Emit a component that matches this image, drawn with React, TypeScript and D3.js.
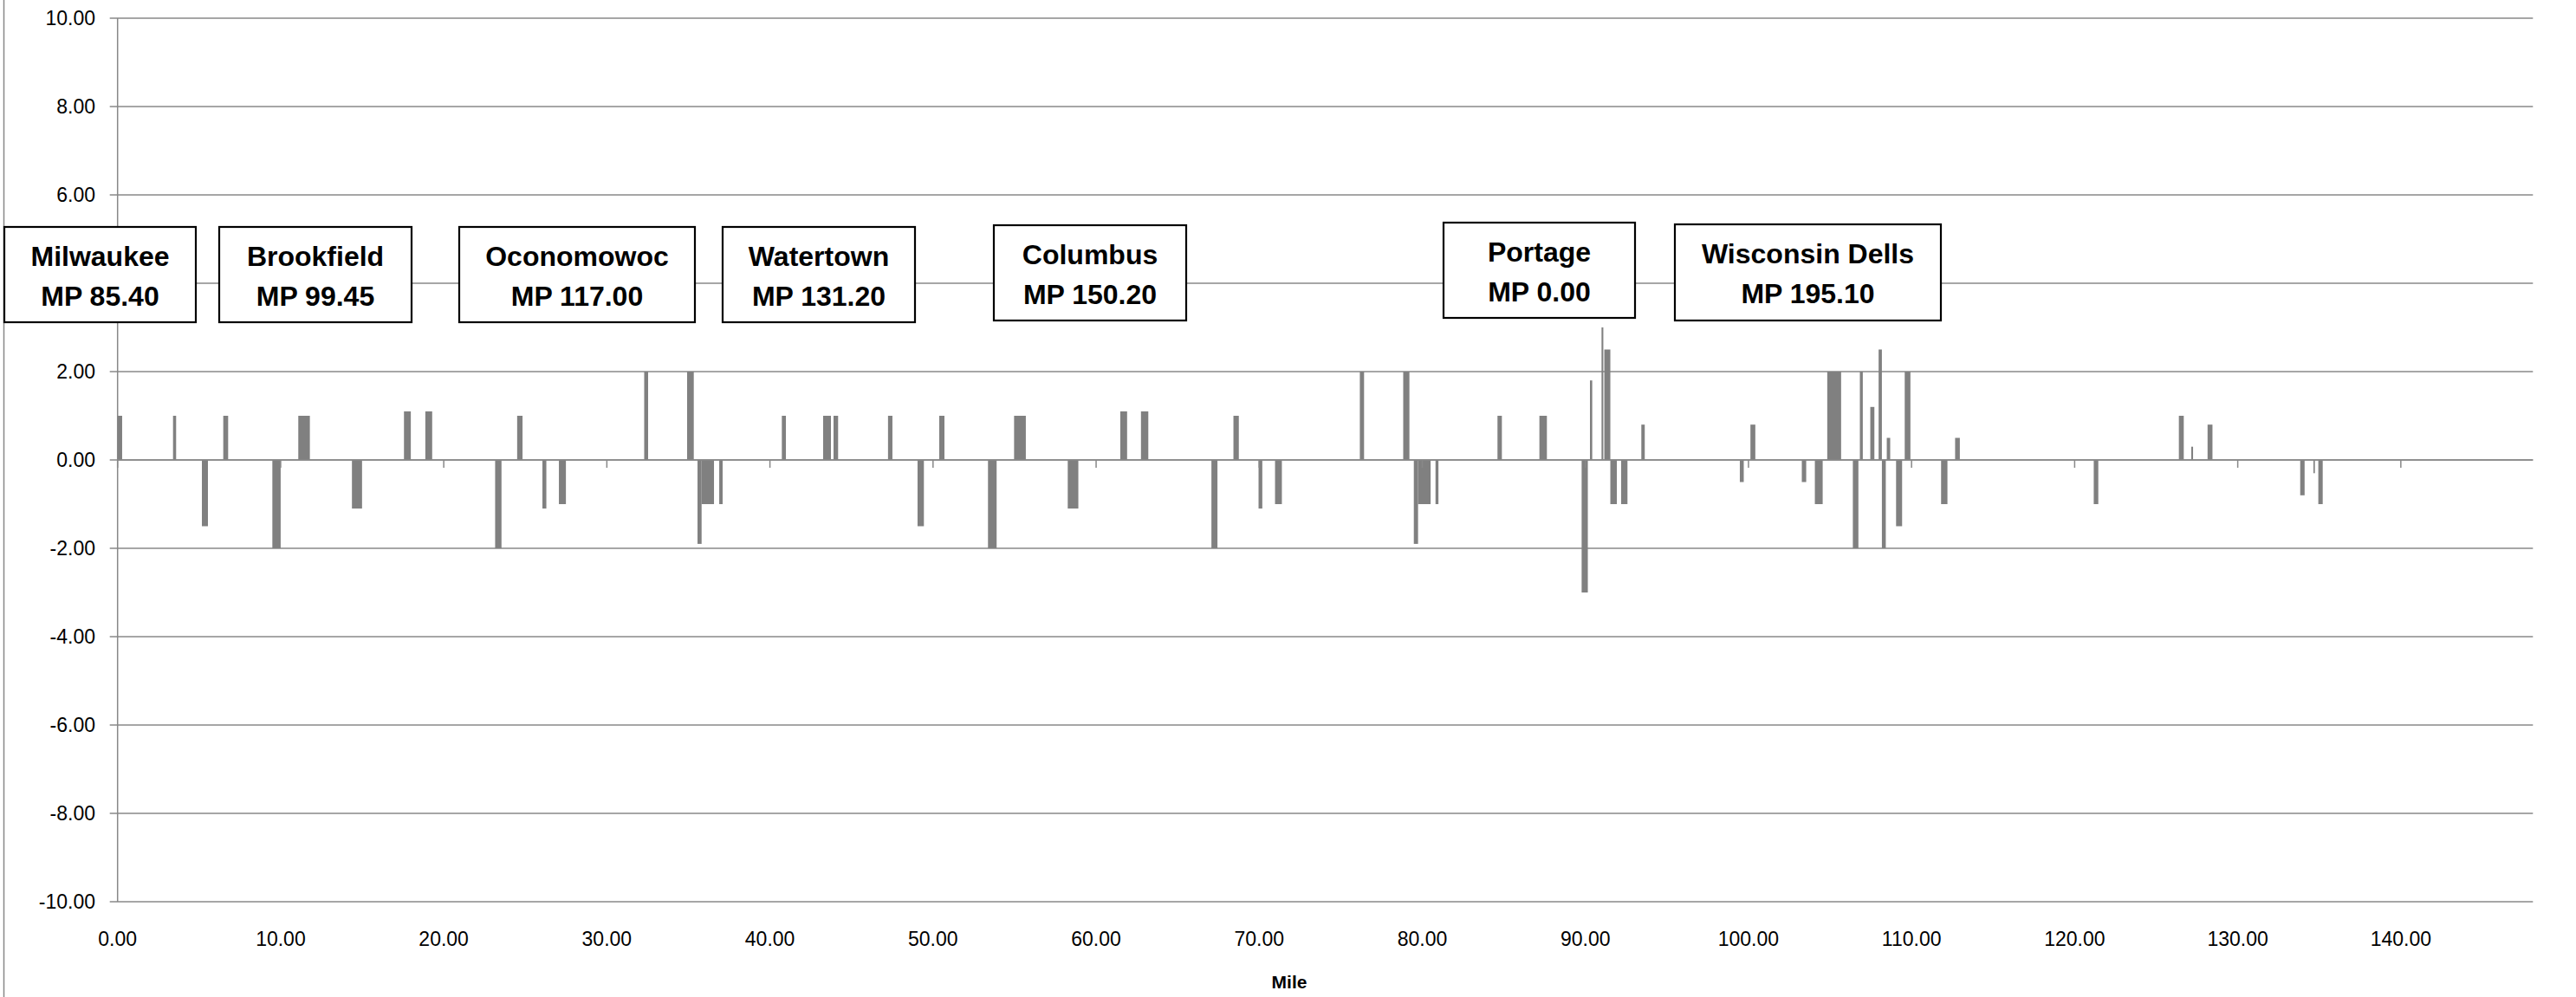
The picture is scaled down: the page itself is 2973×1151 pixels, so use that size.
import React from "react";
import * as d3 from "d3";

// ---- data (miles along the route, deviation values) ----
const segStart = [0.0, 3.4, 5.17, 6.48, 9.49, 11.08, 14.37, 17.56, 18.87, 23.15, 24.5, 26.05, 27.06, 32.29, 34.92, 35.56, 35.81, 36.89, 40.73, 43.26, 43.9, 47.24, 49.05, 50.38, 53.37, 54.97, 58.26, 61.48, 62.75, 67.07, 68.42, 69.96, 70.97, 76.17, 78.83, 79.48, 79.74, 80.81, 84.61, 87.18, 89.77, 90.28, 90.99, 91.16, 91.53, 92.19, 93.43, 99.47, 100.12, 103.27, 104.07, 104.83, 106.4, 106.83, 107.47, 107.98, 108.18, 108.48, 109.05, 109.58, 111.81, 112.67, 121.17, 126.39, 127.15, 128.15, 133.83, 134.64, 134.94];
const segEnd = [0.28, 3.59, 5.54, 6.78, 10.0, 11.79, 14.99, 17.98, 19.29, 23.54, 24.83, 26.29, 27.49, 32.53, 35.33, 35.81, 36.57, 37.1, 40.98, 43.74, 44.18, 47.51, 49.44, 50.7, 53.9, 55.69, 58.91, 61.9, 63.2, 67.44, 68.75, 70.19, 71.39, 76.43, 79.21, 79.74, 80.51, 80.99, 84.88, 87.64, 90.15, 90.42, 91.1, 91.53, 91.93, 92.58, 93.64, 99.71, 100.42, 103.54, 104.55, 105.68, 106.74, 107.01, 107.72, 108.18, 108.42, 108.69, 109.42, 109.93, 112.2, 112.96, 121.45, 126.69, 127.26, 128.45, 134.1, 134.73, 135.21];
const segValue = [1.0, 1.0, -1.5, 1.0, -2.0, 1.0, -1.1, 1.1, 1.1, -2.0, 1.0, -1.1, -1.0, 2.0, 2.0, -1.9, -1.0, -1.0, 1.0, 1.0, 1.0, 1.0, -1.5, 1.0, -2.0, 1.0, -1.1, 1.1, 1.1, -2.0, 1.0, -1.1, -1.0, 2.0, 2.0, -1.9, -1.0, -1.0, 1.0, 1.0, -3.0, 1.8, 3.0, 2.5, -1.0, -1.0, 0.8, -0.5, 0.8, -0.5, -1.0, 2.0, -2.0, 2.0, 1.2, 2.5, -2.0, 0.5, -1.5, 2.0, -1.0, 0.5, -1.0, 1.0, 0.3, 0.8, -0.8, -0.3, -1.0];

const xTicks = [0, 10, 20, 30, 40, 50, 60, 70, 80, 90, 100, 110, 120, 130, 140];
const yTicks = [10, 8, 6, 4, 2, 0, -2, -4, -6, -8, -10];

const townNames = ["Milwaukee", "Brookfield", "Oconomowoc", "Watertown", "Columbus", "Portage", "Wisconsin Dells"];
const townMP = ["MP 85.40", "MP 99.45", "MP 117.00", "MP 131.20", "MP 150.20", "MP 0.00", "MP 195.10"];

// ---- layout ----
const W = 2973;
const H = 1151;
const plot = { left: 135.7, right: 2923.3, top: 21, bottom: 1041 };
const boxRects = [
  [5, 262, 226, 372],
  [253, 262, 475, 372],
  [530, 262, 802, 372],
  [834, 262, 1056, 372],
  [1147, 260, 1369, 370],
  [1666, 257, 1887, 367],
  [1933, 259, 2240, 370],
];

const GRID = "#888888";
const BAR = "#808080";
const FONT = "'Liberation Sans', Arial, sans-serif";

const fmt2 = d3.format(".2f");
const fmt = (v: number) => fmt2(v).replace("\u2212", "-");

// a y-axis label hidden behind a label box (as in the reference) is not drawn
const hiddenByBox = (px: number, py: number) =>
  boxRects.some(([a, b, c, d]) => px >= a && px <= c && py >= b && py <= d);

export default function App() {
  const x = d3.scaleLinear().domain([0, 148.1]).range([plot.left, plot.right]);
  const y = d3.scaleLinear().domain([-10, 10]).range([plot.bottom, plot.top]);
  const y0 = y(0);

  return (
    <svg
      width={W}
      height={H}
      style={{ position: "absolute", left: 0, top: 0, display: "block", background: "#fff" }}
      fontFamily={FONT}
    >
      <rect x={0} y={0} width={W} height={H} fill="#fff" />
      <line x1={4.5} x2={4.5} y1={0} y2={H} stroke={GRID} strokeWidth={1.5} />

      {/* gridlines + y ticks + y labels */}
      {yTicks.map((t) => (
        <g key={"y" + t}>
          <line x1={plot.left - 9} x2={plot.right} y1={y(t)} y2={y(t)} stroke={GRID} strokeWidth={1.5} />
          {!hiddenByBox(90, y(t)) && (
            <text x={110} y={y(t) + 8.3} textAnchor="end" fontSize={23} fill="#000">
              {fmt(t)}
            </text>
          )}
        </g>
      ))}

      {/* y axis line */}
      <line x1={plot.left} x2={plot.left} y1={plot.top} y2={plot.bottom} stroke={GRID} strokeWidth={1.5} />

      {/* bars */}
      {segStart.map((s, i) => {
        const v = segValue[i];
        const x0 = x(s);
        const x1 = x(segEnd[i]);
        return (
          <rect
            key={"b" + i}
            x={x0}
            y={Math.min(y(v), y0)}
            width={Math.max(x1 - x0, 1.5)}
            height={Math.abs(y(v) - y0)}
            fill={BAR}
          />
        );
      })}

      {/* x axis at zero with ticks */}
      <line x1={plot.left} x2={plot.right} y1={y0} y2={y0} stroke={GRID} strokeWidth={1.5} />
      {xTicks.map((t) => (
        <g key={"x" + t}>
          <line x1={x(t)} x2={x(t)} y1={y0} y2={y0 + 9} stroke={GRID} strokeWidth={1.5} />
          <text x={x(t)} y={1091.5} textAnchor="middle" fontSize={23} fill="#000">
            {fmt(t)}
          </text>
        </g>
      ))}

      <text x={1488} y={1141} textAnchor="middle" fontSize={21} fontWeight="bold" fill="#000">
        Mile
      </text>

      {/* town label boxes */}
      {townNames.map((name, i) => {
        const [bx0, by0, bx1, by1] = boxRects[i];
        const cx = (bx0 + bx1) / 2;
        return (
          <g key={"t" + i}>
            <rect x={bx0} y={by0} width={bx1 - bx0} height={by1 - by0} fill="#fff" stroke="#000" strokeWidth={2.2} />
            <text x={cx} y={by0 + 45} textAnchor="middle" fontSize={32} fontWeight="bold" fill="#000">
              {name}
            </text>
            <text x={cx} y={by0 + 91} textAnchor="middle" fontSize={32} fontWeight="bold" fill="#000">
              {townMP[i]}
            </text>
          </g>
        );
      })}
    </svg>
  );
}
